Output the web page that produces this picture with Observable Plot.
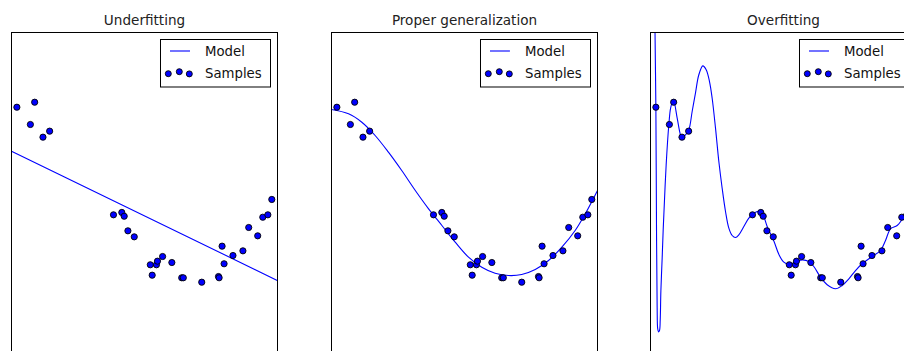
<!DOCTYPE html>
<html><head><meta charset="utf-8">
<script src="https://cdn.jsdelivr.net/npm/d3@7"></script>
<script src="https://cdn.jsdelivr.net/npm/@observablehq/plot@0.6"></script>
<style>
body{margin:0;background:#fff;}
#chart{position:relative;width:904px;height:351px;overflow:hidden;background:#fff;font-family:"DejaVu Sans",sans-serif;}
#chart svg{position:absolute;top:0;overflow:visible;}
</style></head><body><div id="chart"></div>
<script>
const titles = ["Underfitting", "Proper generalization", "Overfitting"];
const legendLabels = ["Model", "Samples"];

const sampleX = [0.0202, 0.0710, 0.0871, 0.1183, 0.1434, 0.3834, 0.4147, 0.4237, 0.4376, 0.4615,
  0.5218, 0.5289, 0.5449, 0.5488, 0.5680, 0.6028, 0.6399, 0.6459, 0.7152, 0.7782,
  0.7805, 0.7917, 0.7992, 0.8326, 0.8700, 0.8918, 0.9256, 0.9447, 0.9637, 0.9786];
const sampleY = [1.104, 0.897, 1.164, 0.745, 0.817, -0.186, -0.158, -0.203, -0.378, -0.450,
  -0.785, -0.910, -0.785, -0.742, -0.686, -0.758, -0.941, -0.941, -0.994, -0.926,
  -0.941, -0.562, -0.773, -0.674, -0.618, -0.338, -0.438, -0.215, -0.186, -0.002];

const modelX1 = [0, 1];
const modelY1 = [0.577, -0.974];

const modelX4 = [0, 0.064, 0.114, 0.164, 0.214, 0.264, 0.315, 0.365, 0.415, 0.465, 0.515,
  0.565, 0.615, 0.665, 0.715, 0.766, 0.816, 0.866, 0.916, 0.954, 1.0];
const modelY4 = [1.077, 1.025, 0.924, 0.765, 0.565, 0.345, 0.106, -0.114, -0.314, -0.514, -0.694,
  -0.814, -0.886, -0.914, -0.902, -0.842, -0.734, -0.574, -0.374, -0.174, 0.106];

const modelX15 = [0, 0.012, 0.017, 0.0202, 0.0226, 0.025, 0.027, 0.030, 0.034, 0.0365, 0.039,
  0.0439, 0.0476, 0.0501, 0.0589, 0.0689, 0.076, 0.086, 0.1003, 0.1128, 0.119, 0.1316,
  0.1441, 0.1566, 0.169, 0.1817, 0.1967, 0.2093, 0.2218, 0.2318, 0.2444, 0.2569, 0.2694,
  0.282, 0.2945, 0.307, 0.3195, 0.332, 0.3509, 0.3697, 0.3834, 0.401, 0.417, 0.426,
  0.4386, 0.4637, 0.4825, 0.5013, 0.52, 0.5451, 0.5702, 0.5952, 0.614, 0.639, 0.6642,
  0.6955, 0.7206, 0.7456, 0.7707, 0.7957, 0.8333, 0.8647, 0.8835, 0.9023, 0.9273, 0.9524, 0.98];
const modelY15 = [40, 4, 2.0, 1.10, -0.374, -1.3, -1.55, -1.59, -1.57, -1.45, -1.1,
  -0.70, -0.374, -0.19, 0.414, 0.893, 1.10, 1.19, 0.973, 0.773, 0.741, 0.773,
  0.833, 1.053, 1.273, 1.493, 1.60, 1.553, 1.412, 1.212, 0.853, 0.453, 0.133,
  -0.146, -0.346, -0.434, -0.458, -0.426, -0.326, -0.226, -0.186, -0.146, -0.154, -0.206,
  -0.326, -0.50, -0.66, -0.754, -0.782, -0.754, -0.726, -0.746, -0.806, -0.934, -1.025,
  -1.073, -1.034, -0.954, -0.854, -0.773, -0.686, -0.614, -0.494, -0.354, -0.314, -0.206, 0.0];

const models = [[modelX1, modelY1], [modelX4, modelY4], [modelX15, modelY15]];
const panelLeft = [11, 331, 650];
const PW = 266, PH = 333.6, ML = 10, MR = 10, MT = 32, MB = 10;

function legendMark(index, scales, values, dimensions) {
  const {width, marginRight, marginTop} = dimensions;
  const right = width - marginRight - 7;
  const left = right - 110;
  const top = marginTop + 7;
  const g = d3.create("svg:g").attr("text-anchor", "start");
  g.append("rect").attr("x", left + 0.5).attr("y", top + 0.5).attr("width", 110).attr("height", 47.5)
    .attr("fill", "#fff").attr("stroke", "#000").attr("stroke-width", 1);
  g.append("line").attr("x1", left + 10).attr("x2", left + 30).attr("y1", top + 12).attr("y2", top + 12)
    .attr("stroke", "#0000ff").attr("stroke-width", 1.1);
  [[8.3, 34.7], [19.3, 32.7], [29.3, 34.9]].forEach(([dx, dy]) => {
    g.append("circle").attr("cx", left + dx).attr("cy", top + dy).attr("r", 3)
      .attr("fill", "#0000ff").attr("stroke", "#000").attr("stroke-width", 0.9);
  });
  g.append("text").attr("x", left + 45).attr("y", top + 17).text(legendLabels[0])
    .attr("text-anchor", "start").attr("font-size", 13.3).attr("fill", "#111").attr("font-family", "DejaVu Sans");
  g.append("text").attr("x", left + 45).attr("y", top + 39).text(legendLabels[1])
    .attr("text-anchor", "start").attr("font-size", 13.3).attr("fill", "#111").attr("font-family", "DejaVu Sans");
  return g.node();
}

const samples = sampleX.map((x, j) => ({x, y: sampleY[j]}));
const chart = document.getElementById("chart");

models.forEach(([mx, my], i) => {
  const model = mx.map((x, j) => ({x, y: my[j]}));
  const p = Plot.plot({
    width: PW + ML + MR, height: MT + PH + MB,
    marginLeft: ML, marginRight: MR, marginTop: MT, marginBottom: MB,
    x: {domain: [0, 1], axis: null},
    y: {domain: [-2, 2], axis: null},
    style: {background: "transparent", fontFamily: "DejaVu Sans", overflow: "visible"},
    marks: [
      Plot.line(model, {x: "x", y: "y", stroke: "#0000ff", strokeWidth: 1.1, curve: "catmull-rom", clip: true}),
      Plot.dot(samples, {x: "x", y: "y", r: 3.1, fill: "#0000ff", stroke: "#000", strokeWidth: 0.9}),
      Plot.frame({stroke: "#000", strokeWidth: 1}),
      Plot.text([titles[i]], {frameAnchor: "top", lineAnchor: "middle", dy: -12, fontSize: 13.6, fill: "#222"}),
      legendMark
    ]
  });
  p.style.left = (panelLeft[i] - ML) + "px";
  chart.appendChild(p);
});
</script>
</body></html>
